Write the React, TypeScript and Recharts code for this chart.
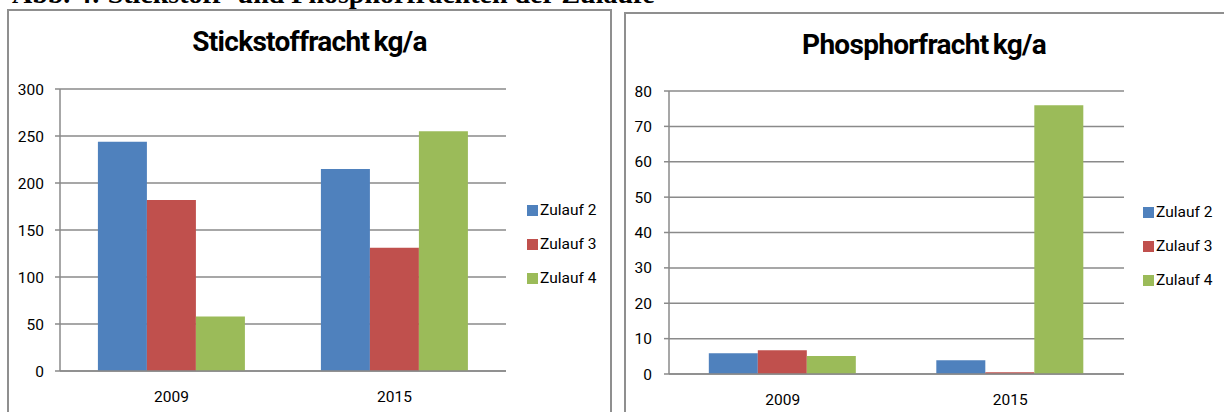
import { BarChart, Bar, XAxis, YAxis, CartesianGrid, Legend } from "recharts";

// categories and series
const years = ["2009", "2015"];
const seriesNames = ["Zulauf 2", "Zulauf 3", "Zulauf 4"];
const seriesColors = ["#4F81BD", "#C0504D", "#9BBB59"];

const nitrogenZulauf2 = [244, 215];
const nitrogenZulauf3 = [182, 131];
const nitrogenZulauf4 = [58, 255];
const nitrogenTicks = [0, 50, 100, 150, 200, 250, 300];

const phosphorZulauf2 = [5.9, 3.9];
const phosphorZulauf3 = [6.7, 0.5];
const phosphorZulauf4 = [5.1, 76];
const phosphorTicks = [0, 10, 20, 30, 40, 50, 60, 70, 80];

const caption = "Abb. 4: Stickstoff- und Phosphorfrachten der Zuläufe";

const FONT = "Roboto, 'Open Sans', sans-serif";
const GRID = "#8a8a8a";
const LEGEND_W = 120;

const buildRows = (s2: number[], s3: number[], s4: number[]) =>
  years.map((year, i) => ({ year, [seriesNames[0]]: s2[i], [seriesNames[1]]: s3[i], [seriesNames[2]]: s4[i] }));

const nitrogenRows = buildRows(nitrogenZulauf2, nitrogenZulauf3, nitrogenZulauf4);
const phosphorRows = buildRows(phosphorZulauf2, phosphorZulauf3, phosphorZulauf4);

type PanelProps = {
  rows: Record<string, string | number>[];
  ticks: number[];
  width: number;
  height: number;
  yWidth: number;
  plotRight: number; // space from plot's right edge to chart edge
  margin: { top: number; bottom: number };
  tickMargin: number;
  legendPad: number;
  legendTop: number;
  gap: string;
};

const ChartPanel = (p: PanelProps) => (
  <BarChart
    width={p.width}
    height={p.height}
    data={p.rows}
    margin={{ top: p.margin.top, bottom: p.margin.bottom, left: 0, right: p.plotRight - LEGEND_W }}
    barGap={0}
    barCategoryGap={p.gap}
  >
    <CartesianGrid vertical={false} stroke={GRID} strokeWidth={1.5} />
    <XAxis
      dataKey="year"
      stroke={GRID}
      strokeWidth={1.5}
      tickLine={false}
      tickSize={0}
      tickMargin={20}
      height={30}
      tick={{ fill: "#000", fontSize: 15.5, fontFamily: FONT }}
    />
    <YAxis
      domain={[p.ticks[0], p.ticks[p.ticks.length - 1]]}
      ticks={p.ticks}
      interval={0}
      width={p.yWidth}
      stroke={GRID}
      strokeWidth={1.5}
      tickSize={5}
      tickMargin={p.tickMargin}
      tick={{ fill: "#000", fontSize: 15.5, fontFamily: FONT }}
    />
    <Legend
      layout="vertical"
      align="right"
      verticalAlign="middle"
      iconType="square"
      iconSize={11}
      wrapperStyle={{
        width: LEGEND_W,
        paddingLeft: p.legendPad,
        boxSizing: "border-box",
        top: p.legendTop,
        lineHeight: "34px",
        whiteSpace: "nowrap",
        fontSize: 15.5,
        fontFamily: FONT,
      }}
      formatter={(v) => <span style={{ color: "#000", marginLeft: -2 }}>{v}</span>}
    />
    {seriesNames.map((name, i) => (
      <Bar key={name} dataKey={name} fill={seriesColors[i]} isAnimationActive={false} />
    ))}
  </BarChart>
);

const boxStyle = (left: number, top: number, width: number): React.CSSProperties => ({
  position: "absolute",
  left,
  top,
  width,
  height: 440,
  border: "2px solid #8f8f8f",
  boxSizing: "border-box",
  background: "#fff",
});

const titleStyle: React.CSSProperties = {
  position: "absolute",
  left: 0,
  right: 0,
  top: 14,
  textAlign: "center",
  fontFamily: FONT,
  fontWeight: 700,
  fontSize: 28,
  letterSpacing: -0.7,
  wordSpacing: -2,
  color: "#000",
};

export default function App() {
  return (
    <div style={{ position: "absolute", left: 0, top: 0, width: 1224, height: 412, overflow: "hidden", background: "#fff" }}>
      <div
        style={{
          position: "absolute",
          left: 12,
          top: -21,
          fontFamily: "'Liberation Serif', 'Times New Roman', serif",
          fontWeight: 700,
          fontSize: 28,
          lineHeight: "30px",
          whiteSpace: "nowrap",
          color: "#000",
        }}
      >
        {caption}
      </div>

      <div style={boxStyle(7, 9, 605)}>
        <div style={titleStyle}>Stickstoffracht kg/a</div>
        <div style={{ position: "absolute", left: 0, top: 0 }}>
          <ChartPanel
            rows={nitrogenRows}
            ticks={nitrogenTicks}
            width={600}
            height={400}
            yWidth={51}
            plotRight={103}
            margin={{ top: 78, bottom: 10 }}
            tickMargin={11}
            legendPad={21}
            legendTop={182}
            gap="17%"
          />
        </div>
      </div>

      <div style={boxStyle(624, 12, 640)}>
        <div style={{ ...titleStyle, right: 40 }}>Phosphorfracht kg/a</div>
        <div style={{ position: "absolute", left: 0, top: 0 }}>
          <ChartPanel
            rows={phosphorRows}
            ticks={phosphorTicks}
            width={598}
            height={398}
            yWidth={43}
            plotRight={100}
            margin={{ top: 77, bottom: 8 }}
            tickMargin={12}
            legendPad={19}
            legendTop={181}
            gap="17.5%"
          />
        </div>
      </div>
    </div>
  );
}
